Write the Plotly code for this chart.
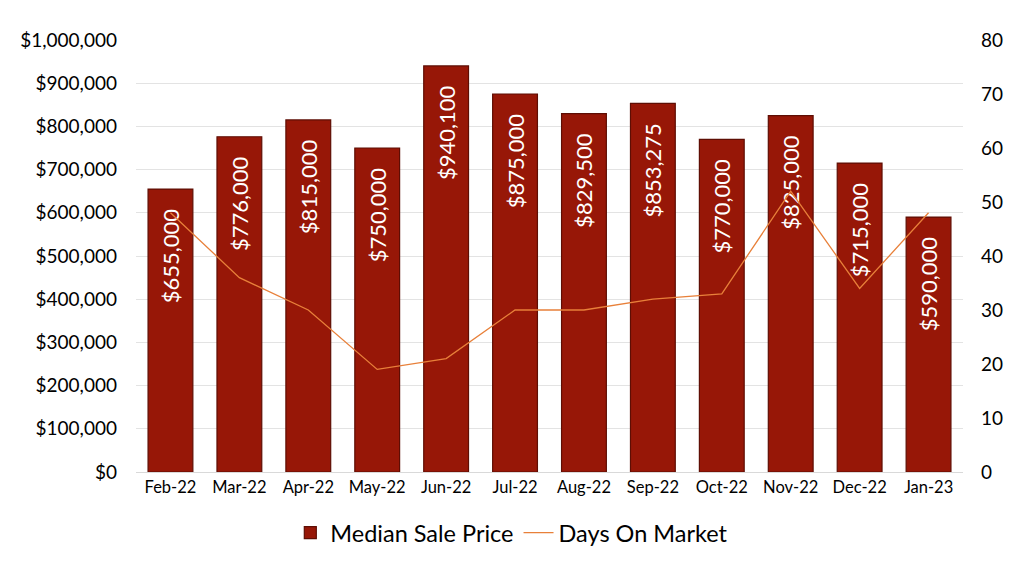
import plotly.graph_objects as go
from plotly.subplots import make_subplots

months = ['Feb-22', 'Mar-22', 'Apr-22', 'May-22', 'Jun-22', 'Jul-22',
          'Aug-22', 'Sep-22', 'Oct-22', 'Nov-22', 'Dec-22', 'Jan-23']
median_price = [655000, 776000, 815000, 750000, 940100, 875000,
                829500, 853275, 770000, 825000, 715000, 590000]
days_on_market = [48, 36, 30, 19, 21, 30, 30, 32, 33, 52, 34, 48]

font_name = "Lato"

fig = make_subplots(specs=[[{"secondary_y": True}]])

# non-breaking spaces push the label down from the top of the bar
labels = ['${:,.0f}'.format(v) + '\u00a0\u00a0\u00a0' for v in median_price]

fig.add_trace(
    go.Bar(
        x=months,
        y=median_price,
        name='Median Sale Price',
        marker=dict(color='#971707', line=dict(color='#5E0E04', width=1.2)),
        width=0.65,
        text=labels,
        textposition='inside',
        insidetextanchor='end',
        textangle=-90,
        textfont=dict(color='white', size=22, family=font_name),
    ),
    secondary_y=False
)

fig.add_trace(
    go.Scatter(
        x=months,
        y=days_on_market,
        mode='lines',
        name='Days On Market',
        line=dict(color='#E8803A', width=1.3),
    ),
    secondary_y=True
)

fig.update_layout(
    width=1024,
    height=580,
    margin=dict(l=128, r=69, t=32, b=116, autoexpand=False),
    plot_bgcolor='white',
    paper_bgcolor='white',
    font=dict(family=font_name, color='#000000'),
    uniformtext=dict(minsize=22, mode='show'),
    legend=dict(orientation='h', xref='container', x=0.492, xanchor='center',
                y=-0.09, yanchor='top', font=dict(size=23.5), itemwidth=30),
    bargap=0.35,
)
fig.update_xaxes(domain=[0, 1], tickfont=dict(size=16.5), showline=True,
                 linecolor='#D9D9D9', ticks='', showgrid=False)
fig.update_yaxes(range=[0, 1000000], dtick=100000, tickprefix='$', tickformat=',',
                 tickfont=dict(size=19), gridcolor='#E3E3E3', zeroline=False,
                 ticklabelstandoff=18, automargin=False, secondary_y=False)
fig.update_yaxes(range=[0, 80], dtick=10, showgrid=False, tickfont=dict(size=19),
                 zeroline=False, ticklabelstandoff=17, automargin=False,
                 secondary_y=True)

fig.write_html("out.html")
